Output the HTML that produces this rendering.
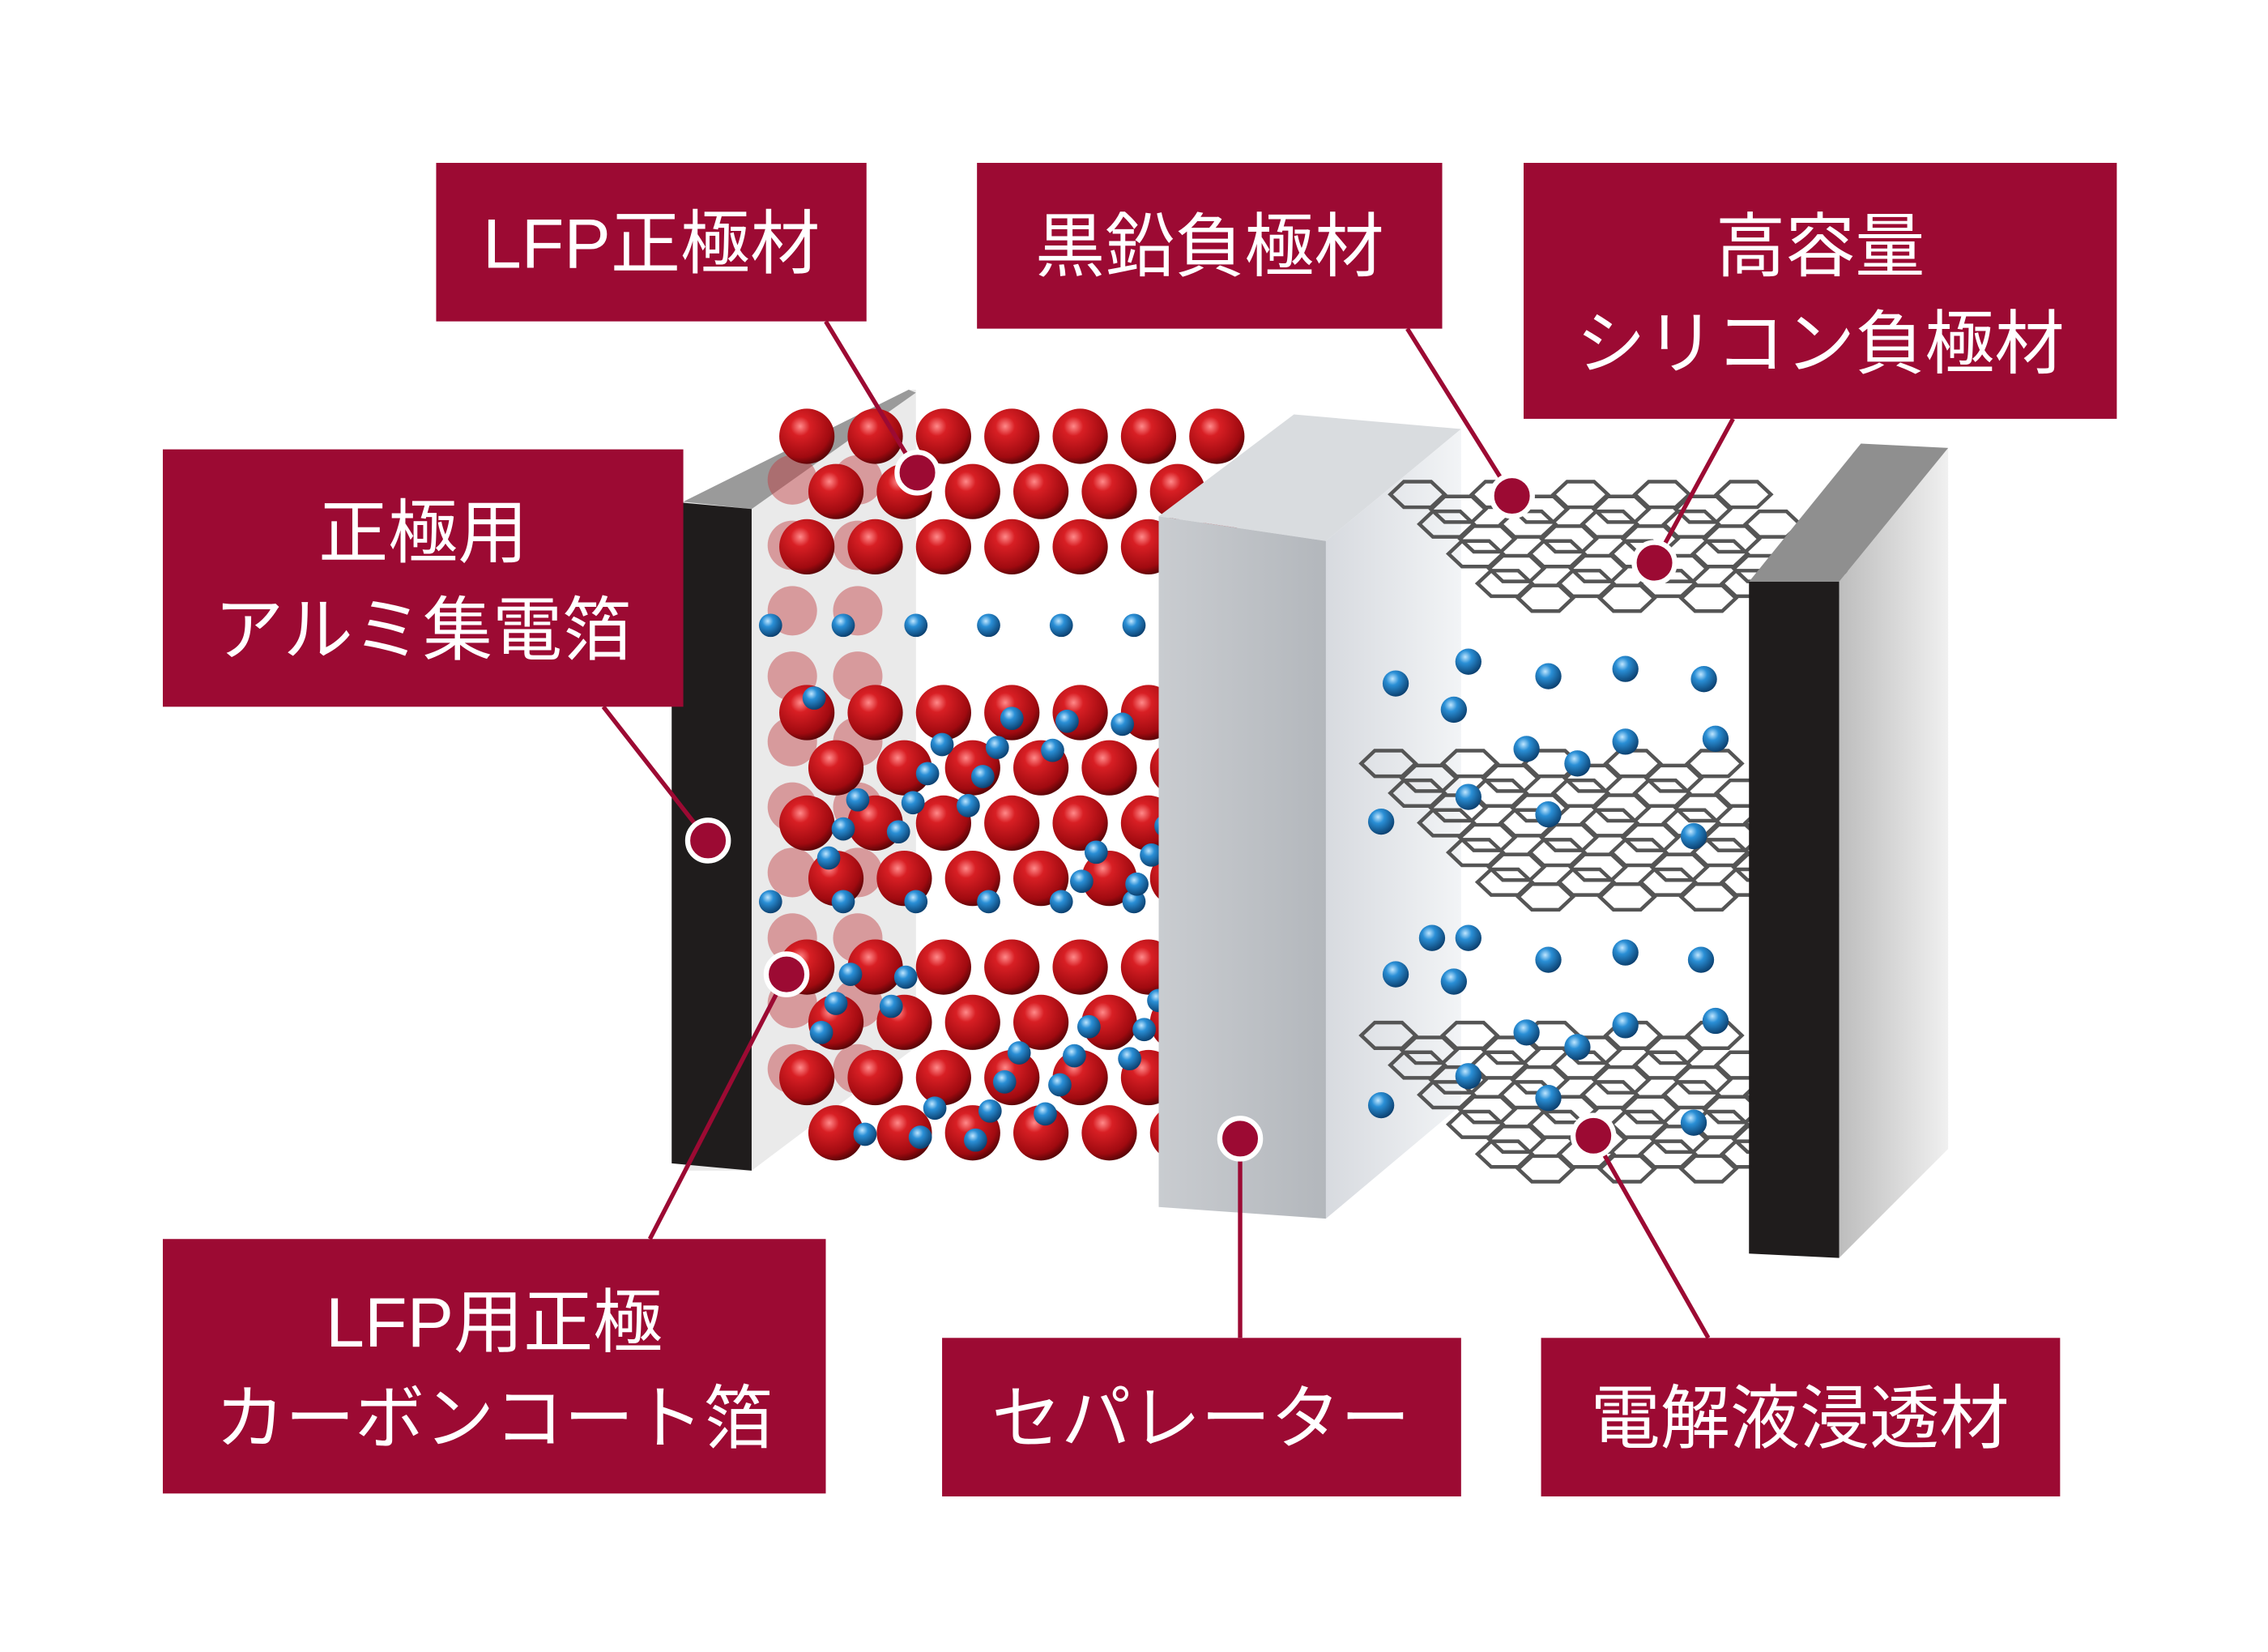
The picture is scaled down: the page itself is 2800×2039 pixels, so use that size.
<!DOCTYPE html>
<html><head><meta charset="utf-8">
<style>
html,body{margin:0;padding:0;background:#fff;}
svg{display:block;}
text{font-family:"Liberation Sans","Noto Sans CJK JP",sans-serif;fill:#fff;}
</style></head>
<body>
<svg id="s" width="2800" height="2039" viewBox="0 0 1560 1136" preserveAspectRatio="none" xmlns="http://www.w3.org/2000/svg">
<defs>
<radialGradient id="red" cx="0.38" cy="0.32" r="0.7">
<stop offset="0" stop-color="#ff8a8a"/><stop offset="0.25" stop-color="#d81f24"/><stop offset="0.8" stop-color="#a00a10"/><stop offset="1" stop-color="#5a0407"/></radialGradient>
<radialGradient id="blue" cx="0.38" cy="0.32" r="0.7">
<stop offset="0" stop-color="#bfe6ff"/><stop offset="0.35" stop-color="#2a8fd6"/><stop offset="1" stop-color="#0b3f6e"/></radialGradient>
<linearGradient id="sep" x1="0" x2="1"><stop offset="0" stop-color="#c9ccd0"/><stop offset="1" stop-color="#b3b7bc"/></linearGradient>
<linearGradient id="sep2" x1="0" x2="1"><stop offset="0" stop-color="#d7dadf"/><stop offset="1" stop-color="#f2f4f6"/></linearGradient>
<linearGradient id="rp" x1="0" x2="1"><stop offset="0" stop-color="#bdbdbd"/><stop offset="1" stop-color="#f0f0f0"/></linearGradient>
</defs>
<rect width="1560" height="1136" fill="#fff"/>
<polygon points="470,345 625,268 630,268 630,720 517,805 470,805" fill="#e6e6e6" opacity="0.85"/>
<polygon points="470,345 625,268 630,270 517,350" fill="#9a9a9a"/>
<polygon points="462,345 517,350 517,805 462,800" fill="#1f1c1c"/>
<g id="leftballs"></g>
<g id="midballs"></g>
<polygon points="797,355 890,285 1005,295 912,372" fill="#d9dcdf"/>
<polygon points="912,372 1005,295 1005,760 912,838" fill="url(#sep2)"/>
<polygon points="797,355 912,372 912,838 797,830" fill="url(#sep)"/>
<g id="hex"></g>
<g id="rightballs"></g>
<polygon points="1265,400 1340,308 1340,790 1265,865" fill="url(#rp)"/>
<polygon points="1203,400 1280,305 1340,308 1265,400" fill="#8f8f8f"/>
<polygon points="1203,400 1265,400 1265,865 1203,862" fill="#1f1c1c"/>
<g stroke="#9c0a33" stroke-width="3" fill="none">
<line x1="568" y1="221" x2="631" y2="325"/>
<line x1="968" y1="226" x2="1040" y2="341"/>
<line x1="1192" y1="288" x2="1138" y2="387"/>
<line x1="415" y1="486" x2="487" y2="578"/>
<line x1="447" y1="852" x2="541" y2="670"/>
<line x1="853" y1="920" x2="853" y2="783"/>
<line x1="1175" y1="920" x2="1096" y2="781"/>
</g>
<g fill="#9c0a33" stroke="#fff" stroke-width="3.5">
<circle cx="631" cy="325" r="14"/><circle cx="1040" cy="341" r="14"/><circle cx="1138" cy="387" r="14"/>
<circle cx="487" cy="578" r="14"/><circle cx="541" cy="670" r="14"/><circle cx="853" cy="783" r="14"/><circle cx="1096" cy="781" r="14"/>
</g>
<g fill="#9c0a33">
<rect x="300" y="112" width="296" height="109"/>
<rect x="672" y="112" width="320" height="114"/>
<rect x="1048" y="112" width="408" height="176"/>
<rect x="112" y="309" width="358" height="177"/>
<rect x="112" y="852" width="456" height="175"/>
<rect x="648" y="920" width="357" height="109"/>
<rect x="1060" y="920" width="357" height="109"/>
</g>
<g font-size="48" text-anchor="middle">
<text x="448" y="184">LFP正極材</text>
<text x="832" y="186">黒鉛負極材</text>
<text x="1252" y="186">高容量</text>
<text x="1252" y="253">シリコン負極材</text>
<text x="291" y="383">正極用</text>
<text x="291" y="450">アルミ集電箔</text>
<text x="340" y="926">LFP用正極</text>
<text x="340" y="992">カーボンコート箔</text>
<text x="826" y="992">セパレーター</text>
<text x="1238" y="992">電解液浸透材</text>
</g>
</svg>
<script>
var NS="http://www.w3.org/2000/svg";
function c(g,x,y,r,f,o){var e=document.createElementNS(NS,"circle");e.setAttribute("cx",x);e.setAttribute("cy",y);e.setAttribute("r",r);e.setAttribute("fill",f);if(o)e.setAttribute("opacity",o);document.getElementById(g).appendChild(e);}
var bands=[[300,410],[490,610],[665,790]];
bands.forEach(function(b){
 for(var y=b[0];y<=b[1];y+=38){
  var off=((y-b[0])/38)%2?20:0;
  for(var x=555+off;x<=840;x+=47){c("midballs",x,y,19,"url(#red)");}
 }
});
[[430,455],[620,640]].forEach(function(b){
 for(var x=530;x<=780;x+=50){c("midballs",x,b[0]+((x/50)%2?0:14),8,"url(#blue)");}
});
for(var i=0;i<40;i++){var x=560+(i*53)%260,y=480+(i*37)%130+(i%2?175:0);c("midballs",x,y,8,"url(#blue)");}
for(var y=330;y<780;y+=45)for(var x=525;x<600;x+=45)c("leftballs",x+((y/45)%2?20:0),y,17,"#c0393d","0.45");
var rb=[[960,470],[1010,455],[1065,465],[1118,460],[1172,467],[1000,488],[950,565],[1010,548],[1050,515],[1085,525],[1118,510],[1180,508],[1065,560],[1165,575],[985,645],[1010,645],[1065,660],[1118,655],[1170,660],[960,670],[1000,675],[950,760],[1010,740],[1050,710],[1085,720],[1118,705],[1180,702],[1065,755],[1165,772]];
rb.forEach(function(p){c("rightballs",p[0],p[1],9,"url(#blue)");});
function hexgrid(x0,y0,rows,cols){
 var g=document.getElementById("hex"),s=17;
 for(var r=0;r<rows;r++)for(var q=0;q<cols;q++){
  var cx=x0+q*s*1.5*1.1+r*20,cy=y0+r*s*1.2+(q%2?s*0.6:0);
  var pts=[];for(var k=0;k<6;k++){var a=Math.PI/3*k;pts.push((cx+s*1.1*Math.cos(a)).toFixed(1)+","+(cy+s*0.6*Math.sin(a)).toFixed(1));}
  var e=document.createElementNS(NS,"polygon");e.setAttribute("points",pts.join(" "));e.setAttribute("fill","none");e.setAttribute("stroke","#555");e.setAttribute("stroke-width","2.5");g.appendChild(e);
 }
}
hexgrid(975,340,4,9);hexgrid(955,525,5,9);hexgrid(955,712,5,9);
</script>
</body></html>
